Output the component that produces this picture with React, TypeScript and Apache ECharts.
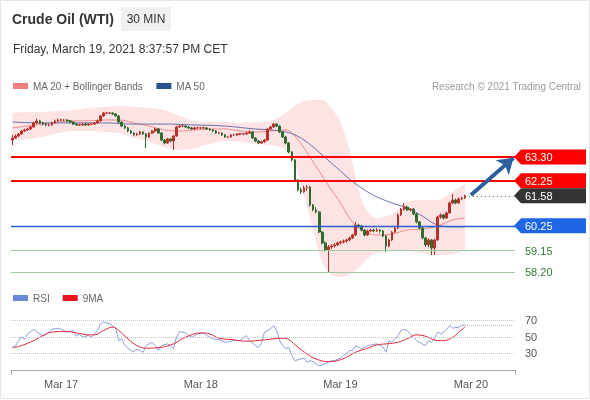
import React, { useEffect, useRef } from "react";
import * as echarts from "echarts";

// ---------- DATA ----------
const slotCount = 166; // 150 half-hour bars + empty room on the right
const dayLabels = ["Mar 17", "Mar 18", "Mar 19", "Mar 20"];
const dayLabelIndex = [16, 62, 108, 151];

// [open, close, low, high]
const candles: number[][] = [
  [64.05, 64.14, 63.83, 64.28], [64.14, 64.23, 64.10, 64.30], [64.23, 64.32, 64.18, 64.36], [64.32, 64.45, 64.28, 64.50],
  [64.45, 64.50, 64.40, 64.56], [64.50, 64.54, 64.45, 64.60], [64.54, 64.63, 64.50, 64.68], [64.63, 64.81, 64.60, 64.86],
  [64.81, 64.90, 64.76, 65.00], [64.90, 64.81, 64.76, 64.95], [64.81, 64.76, 64.70, 64.86], [64.76, 64.72, 64.66, 64.80],
  [64.72, 64.72, 64.66, 64.78], [64.72, 64.81, 64.68, 64.86], [64.81, 64.90, 64.78, 64.96], [64.90, 64.94, 64.86, 65.00],
  [64.94, 64.94, 64.89, 64.99], [64.94, 64.94, 64.88, 64.98], [64.94, 64.90, 64.85, 64.97], [64.90, 64.85, 64.80, 64.94],
  [64.85, 64.76, 64.72, 64.88], [64.76, 64.72, 64.67, 64.80], [64.72, 64.72, 64.67, 64.78], [64.72, 64.76, 64.68, 64.80],
  [64.76, 64.72, 64.68, 64.80], [64.72, 64.76, 64.68, 64.80], [64.76, 64.76, 64.71, 64.81], [64.76, 64.81, 64.72, 64.85],
  [64.81, 64.90, 64.78, 64.95], [64.90, 65.12, 64.86, 65.16], [65.12, 65.25, 65.08, 65.30], [65.25, 65.25, 65.19, 65.30],
  [65.25, 65.25, 65.20, 65.29], [65.25, 65.21, 65.16, 65.28], [65.21, 65.12, 65.08, 65.25], [65.12, 64.85, 64.80, 65.16],
  [64.85, 64.67, 64.62, 64.88], [64.67, 64.59, 64.54, 64.72], [64.59, 64.45, 64.40, 64.63], [64.45, 64.36, 64.32, 64.50],
  [64.36, 64.28, 64.22, 64.40], [64.28, 64.32, 64.24, 64.37], [64.32, 64.41, 64.28, 64.46], [64.41, 64.32, 64.28, 64.45],
  [64.32, 64.19, 63.70, 64.36], [64.19, 64.36, 64.15, 64.40], [64.36, 64.45, 64.32, 64.50], [64.45, 64.54, 64.40, 64.60],
  [64.54, 64.36, 64.32, 64.58], [64.36, 64.05, 64.00, 64.40], [64.05, 63.92, 63.86, 64.10], [63.92, 64.10, 63.88, 64.15],
  [64.10, 64.01, 63.95, 64.14], [64.01, 64.23, 63.61, 64.28], [64.23, 64.63, 64.20, 64.68], [64.63, 64.67, 64.58, 64.74],
  [64.67, 64.67, 64.62, 64.72], [64.67, 64.63, 64.58, 64.72], [64.63, 64.59, 64.54, 64.67], [64.59, 64.54, 64.50, 64.63],
  [64.54, 64.59, 64.50, 64.64], [64.59, 64.59, 64.54, 64.64], [64.59, 64.59, 64.53, 64.63], [64.59, 64.59, 64.54, 64.65],
  [64.59, 64.54, 64.50, 64.63], [64.54, 64.50, 64.45, 64.58], [64.50, 64.45, 64.40, 64.54], [64.45, 64.36, 64.32, 64.49],
  [64.36, 64.36, 64.31, 64.41], [64.36, 64.28, 64.23, 64.40], [64.28, 64.19, 64.14, 64.32], [64.19, 64.19, 64.14, 64.24],
  [64.19, 64.28, 64.15, 64.32], [64.28, 64.28, 64.23, 64.33], [64.28, 64.32, 64.24, 64.36], [64.32, 64.32, 64.27, 64.37],
  [64.32, 64.32, 64.26, 64.36], [64.32, 64.36, 64.28, 64.41], [64.36, 64.41, 64.32, 64.50], [64.41, 64.14, 64.10, 64.45],
  [64.14, 64.01, 63.96, 64.18], [64.01, 63.92, 63.88, 64.05], [63.92, 63.97, 63.88, 64.02], [63.97, 64.05, 63.93, 64.10],
  [64.05, 64.54, 64.02, 64.58], [64.54, 64.63, 64.50, 64.68], [64.63, 64.76, 64.59, 64.81], [64.76, 64.67, 64.62, 64.80],
  [64.67, 64.41, 64.36, 64.70], [64.41, 64.19, 64.14, 64.45], [64.19, 63.92, 63.86, 64.23], [63.92, 63.52, 63.46, 63.96],
  [63.52, 63.17, 63.10, 63.56], [63.17, 62.28, 62.22, 63.20], [62.28, 61.84, 61.78, 62.32], [61.84, 61.75, 61.66, 61.95],
  [61.75, 61.93, 61.70, 62.02], [61.93, 61.97, 61.80, 62.06], [61.97, 61.17, 61.10, 62.02], [61.17, 60.95, 60.90, 61.22],
  [60.95, 60.86, 60.80, 61.08], [60.86, 59.97, 59.92, 60.90], [59.97, 59.49, 59.42, 60.02], [59.49, 59.18, 59.10, 59.55],
  [59.18, 59.31, 58.20, 59.40], [59.31, 59.35, 59.22, 59.44], [59.35, 59.40, 59.28, 59.48], [59.40, 59.49, 59.35, 59.55],
  [59.49, 59.53, 59.42, 59.60], [59.53, 59.57, 59.46, 59.64], [59.57, 59.62, 59.50, 59.68], [59.62, 59.71, 59.56, 59.76],
  [59.71, 59.84, 59.66, 59.90], [59.84, 60.28, 59.80, 60.42], [60.28, 60.24, 60.15, 60.34], [60.24, 60.06, 60.00, 60.30],
  [60.06, 59.84, 59.78, 60.10], [59.84, 60.02, 59.80, 60.08], [60.02, 60.06, 59.96, 60.12], [60.06, 60.02, 59.96, 60.12],
  [60.02, 60.06, 59.98, 60.14], [60.06, 60.02, 59.94, 60.10], [60.02, 59.80, 59.74, 60.06], [59.80, 59.35, 59.09, 59.84],
  [59.35, 59.62, 59.30, 59.68], [59.62, 59.97, 59.58, 60.02], [59.97, 60.15, 59.92, 60.22], [60.15, 60.73, 60.10, 60.80],
  [60.73, 60.99, 60.68, 61.04], [60.99, 61.08, 60.92, 61.26], [61.08, 60.95, 60.90, 61.14], [60.95, 60.99, 60.88, 61.04],
  [60.99, 60.77, 60.72, 61.04], [60.77, 60.42, 60.36, 60.82], [60.42, 60.15, 60.08, 60.46], [60.15, 59.71, 59.65, 60.20],
  [59.71, 59.40, 59.32, 59.76], [59.40, 59.62, 59.30, 59.70], [59.62, 59.26, 58.95, 59.66], [59.26, 59.62, 58.95, 59.68],
  [59.62, 60.64, 59.58, 60.70], [60.64, 60.73, 60.55, 60.80], [60.73, 60.59, 60.52, 60.78], [60.59, 60.82, 60.55, 60.88],
  [60.82, 61.26, 60.78, 61.32], [61.26, 61.39, 61.20, 61.66], [61.39, 61.26, 61.20, 61.45], [61.26, 61.44, 61.22, 61.50],
  [61.44, 61.48, 61.40, 61.54], [61.48, 61.58, 61.44, 61.63],
];

// sampled indicator readings (bar index, value)
const bandIndex = [0, 5, 10, 15, 20, 25, 30, 35, 40, 45, 50, 55, 60, 65, 70, 75, 80, 85, 90, 93, 96, 99, 102, 105, 108, 111, 114, 117, 120, 125, 130, 135, 140, 145, 149];
const bandUpper = [65.25, 65.30, 65.30, 65.34, 65.38, 65.47, 65.52, 65.56, 65.52, 65.47, 65.38, 65.12, 64.90, 64.85, 64.85, 64.81, 64.85, 64.90, 65.25, 65.56, 65.78, 65.83, 65.83, 65.47, 64.85, 63.61, 61.84, 60.86, 60.59, 60.77, 61.30, 61.39, 61.39, 61.75, 62.10];
const bandLower = [64.05, 64.10, 64.19, 64.36, 64.45, 64.45, 64.41, 64.36, 64.14, 63.97, 63.74, 63.61, 63.70, 63.88, 64.01, 63.97, 63.88, 63.83, 63.61, 62.95, 61.61, 60.06, 58.64, 58.07, 57.98, 58.07, 58.38, 58.82, 59.04, 59.13, 59.13, 59.04, 58.95, 59.00, 59.18];
const ma20 = [64.59, 64.67, 64.76, 64.85, 64.90, 64.90, 64.94, 64.94, 64.81, 64.67, 64.50, 64.45, 64.50, 64.54, 64.54, 64.45, 64.41, 64.45, 64.50, 64.23, 63.70, 63.08, 62.46, 61.84, 61.26, 60.59, 60.15, 59.93, 59.84, 59.89, 60.06, 60.11, 60.24, 60.51, 60.59];
const ma50Index = [0, 10, 20, 30, 40, 50, 60, 70, 80, 85, 90, 93, 96, 99, 102, 105, 108, 111, 114, 117, 120, 125, 130, 135, 140, 145, 149];
const ma50 = [64.85, 64.81, 64.81, 64.81, 64.76, 64.76, 64.72, 64.67, 64.54, 64.50, 64.41, 64.28, 64.05, 63.74, 63.39, 63.03, 62.68, 62.32, 62.01, 61.75, 61.53, 61.26, 61.04, 60.68, 60.28, 60.20, 60.20];

const rsiIndex = [0, 1, 2, 3, 4, 5, 7, 8, 10, 11, 13, 15, 17, 18, 20, 21, 22, 23, 25, 26, 28, 29, 30, 32, 34, 35, 36, 37, 39, 40, 41, 42, 43, 44, 46, 47, 48, 49, 51, 52, 53, 54, 55, 57, 58, 59, 61, 63, 64, 66, 68, 70, 73, 75, 77, 78, 80, 81, 82, 83, 85, 86, 87, 88, 89, 90, 91, 92, 93, 95, 96, 97, 98, 99, 100, 101, 102, 104, 105, 106, 108, 109, 110, 111, 112, 113, 114, 115, 117, 118, 120, 122, 123, 124, 125, 127, 128, 129, 130, 131, 132, 133, 134, 135, 136, 137, 138, 139, 140, 141, 142, 143, 144, 145, 147, 148, 149];
const rsiValue = [38, 39, 45.5, 50, 47, 54, 59, 56, 51.6, 52.4, 59, 60.5, 57.7, 55.7, 57.7, 50.8, 53.6, 49.6, 51.6, 49.6, 57.7, 65.7, 67.8, 65.7, 59.7, 45.5, 47.6, 39.5, 33.4, 32.2, 35.5, 33.4, 31.4, 39.5, 43.5, 39.5, 33.4, 39.5, 41.5, 39.5, 35.5, 49.6, 56.4, 54.8, 51.6, 49.6, 53.6, 54.8, 51.6, 47.6, 46.7, 43.5, 45.5, 45.5, 51.6, 46, 39.5, 37, 42, 55.7, 59.7, 63.7, 57.7, 45.5, 39.5, 35.5, 37.5, 27.3, 21.3, 23.3, 24.2, 19.3, 21.3, 20, 17.3, 15.2, 16, 19.3, 21.3, 21.3, 24.2, 27.3, 29.4, 33.4, 33.4, 39.5, 37.5, 35.5, 39.5, 40.3, 41.5, 38, 31.4, 45.5, 43.5, 51.6, 57.7, 59, 57.7, 53.6, 49.6, 45.5, 43.5, 41.5, 39.5, 45.5, 43.5, 47.6, 55.7, 53.6, 55.7, 59, 63.7, 60.5, 61.8, 63.7, 64.5];
const rsiMaIndex = [0, 3, 7, 10, 13, 18, 21, 25, 27, 30, 33, 35, 38, 41, 44, 49, 53, 57, 62, 65, 68, 73, 77, 83, 89, 91, 94, 97, 100, 104, 107, 110, 113, 117, 120, 123, 127, 130, 133, 136, 140, 142, 145, 148, 149];
const rsiMa = [36.7, 39.5, 45.5, 51.6, 55.7, 56.4, 54.8, 52.4, 52.4, 57.7, 61.8, 57.7, 47.6, 39.5, 36.3, 37.5, 41.5, 49.6, 54.8, 53.6, 48.4, 46.4, 44.7, 46.4, 48.4, 46.7, 37.5, 29.4, 23.3, 20, 21.3, 25.4, 31.4, 36.3, 40.3, 41.5, 43.5, 47.6, 52.4, 50.8, 45.5, 45.5, 49.6, 59, 61.8];
const rsiLevels = [70, 50, 30];

// levels (resistance / support) and last price
const resistance = [63.30, 62.25];
const support = [60.25];
const minorSupport = [59.15, 58.20];
const lastPrice = 61.58;
const arrowFrom = [151, 61.61];
const arrowTo = [165, 63.26];

const FONT = "'Liberation Sans', Arial, Helvetica, sans-serif";

export default function App() {
  const ref = useRef<HTMLDivElement>(null);
  useEffect(() => {
    if (!ref.current) return;
    const chart = echarts.init(ref.current, undefined, { renderer: "svg" });
    const cats = Array.from({ length: slotCount }, (_, i) => String(i));
    const pairs = (idx: number[], vals: number[]) => idx.map((x, k) => [x, vals[k]]);
    const lastIdx = candles.length - 1;

    const option: any = {
      animation: false,
      textStyle: { fontFamily: FONT },
      legend: [
        {
          left: 8, top: 76, icon: "rect", itemWidth: 15, itemHeight: 6, itemGap: 13,
          textStyle: { color: "#666", fontSize: 10, fontFamily: FONT },
          data: [
            { name: "MA 20 + Bollinger Bands", itemStyle: { color: "#f08080" } },
            { name: "MA 50", itemStyle: { color: "#2c4f8f" } },
          ],
        },
        {
          left: 8, top: 288, icon: "rect", itemWidth: 15, itemHeight: 6, itemGap: 13,
          textStyle: { color: "#666", fontSize: 10, fontFamily: FONT },
          data: [
            { name: "RSI", itemStyle: { color: "#6a89d8" } },
            { name: "9MA", itemStyle: { color: "#e8141e" } },
          ],
        },
      ],
      grid: [
        { left: 11, right: 75, top: 100.6, height: 180.4 },
        { left: 11, right: 75, top: 312, height: 58 },
      ],
      xAxis: [
        { type: "category", gridIndex: 0, data: cats, boundaryGap: true, show: false },
        {
          type: "category", gridIndex: 1, data: cats, boundaryGap: true, position: "bottom",
          axisLine: { show: false }, axisTick: { show: false }, splitLine: { show: false },
          axisLabel: {
            interval: (i: number) => dayLabelIndex.includes(i),
            formatter: (v: string) => {
              const k = dayLabelIndex.indexOf(Number(v));
              return k >= 0 ? dayLabels[k] : "";
            },
            color: "#555", fontSize: 11, margin: 8, fontFamily: FONT,
          },
        },
        {
          type: "value", gridIndex: 1, min: 0, max: 1, interval: 1, position: "bottom",
          axisLine: { show: true, lineStyle: { color: "#aaa" } },
          axisTick: { show: true, length: 5, lineStyle: { color: "#aaa" } },
          axisLabel: { show: false }, splitLine: { show: false },
        },
      ],
      yAxis: [
        { type: "value", gridIndex: 0, min: 57.8, max: 65.8, show: false, splitLine: { show: false } },
        { type: "value", gridIndex: 1, min: 10, max: 80, show: false, splitLine: { show: false } },
      ],
      series: [
        {
          name: "bbLower", type: "line", xAxisIndex: 0, yAxisIndex: 0, stack: "bb", smooth: 0.3,
          data: pairs(bandIndex, bandLower), symbol: "none", lineStyle: { opacity: 0 }, silent: true, z: 1,
        },
        {
          name: "bbWidth", type: "line", xAxisIndex: 0, yAxisIndex: 0, stack: "bb", smooth: 0.3,
          data: bandIndex.map((x, k) => [x, +(bandUpper[k] - bandLower[k]).toFixed(2)]),
          symbol: "none", lineStyle: { opacity: 0 }, areaStyle: { color: "#fde3e3", opacity: 1 }, silent: true, z: 1,
        },
        {
          name: "MA 20 + Bollinger Bands", type: "line", xAxisIndex: 0, yAxisIndex: 0, smooth: 0.4,
          data: pairs(bandIndex, ma20), symbol: "none", color: "#f08080",
          lineStyle: { width: 1, color: "#ec8a8a" }, z: 2,
        },
        {
          name: "MA 50", type: "line", xAxisIndex: 0, yAxisIndex: 0, smooth: 0.4,
          data: pairs(ma50Index, ma50), symbol: "none", color: "#2c4f8f",
          lineStyle: { width: 1, color: "#6670aa" }, z: 2,
        },
        {
          name: "WTI", type: "candlestick", xAxisIndex: 0, yAxisIndex: 0, data: candles,
          barWidth: "72%",
          itemStyle: { color: "#b8322a", color0: "#2f6b2f", borderColor: "#b8322a", borderColor0: "#2f6b2f", borderWidth: 1 },
          z: 3,
          markLine: {
            silent: true, symbol: ["none", "none"], animation: false,
            label: { show: false },
            data: [
              ...resistance.map((v) => ({ yAxis: v, lineStyle: { color: "#ff0000", width: 2, type: "solid" } })),
              ...support.map((v) => ({ yAxis: v, lineStyle: { color: "#2a5fd8", width: 1.3, type: "solid" } })),
              ...minorSupport.map((v) => ({ yAxis: v, lineStyle: { color: "#9ccc9c", width: 1, type: "solid" } })),
              [
                { coord: [lastIdx, lastPrice], lineStyle: { color: "#555", width: 1, type: [1, 3] } },
                { coord: [slotCount - 1, lastPrice] },
              ],
              [
                { coord: arrowFrom, symbol: "none", lineStyle: { color: "#2d5e9e", width: 4, type: "solid" } },
                { coord: arrowTo, symbol: "arrow", symbolSize: [15, 15] },
              ],
            ],
          },
        },
        {
          name: "RSI", type: "line", xAxisIndex: 1, yAxisIndex: 1, data: pairs(rsiIndex, rsiValue),
          symbol: "none", color: "#6a89d8", lineStyle: { width: 1, color: "#8aa0dc" }, z: 3,
          markLine: {
            silent: true, symbol: ["none", "none"],
            lineStyle: { type: "dotted", color: "#c4c4c4", width: 1 },
            label: { show: true, position: "end", distance: 10, color: "#555", fontSize: 11, formatter: "{c}", fontFamily: FONT },
            data: [
              ...rsiLevels.map((v) => ({ yAxis: v })),
              [
                { coord: [lastIdx, rsiValue[rsiValue.length - 1]], label: { show: false } },
                { coord: [slotCount - 1, rsiValue[rsiValue.length - 1]] },
              ],
            ],
          },
        },
        {
          name: "9MA", type: "line", xAxisIndex: 1, yAxisIndex: 1, data: pairs(rsiMaIndex, rsiMa), smooth: 0.4,
          symbol: "none", color: "#e8141e", lineStyle: { width: 1, color: "#e0283a" }, z: 4,
        },
      ],
    };
    chart.setOption(option);

    const toY = (v: number) => chart.convertToPixel({ yAxisIndex: 0 }, v) as number;
    const tipX = 514, bodyX = 521, endX = 586, half = 7.5;
    const tag = (v: number, fill: string) => {
      const y = toY(v);
      return [
        { type: "polygon", shape: { points: [[tipX, y], [bodyX, y - half], [endX, y - half], [endX, y + half], [bodyX, y + half]] }, style: { fill } },
        { type: "text", x: 525, y, style: { text: v.toFixed(2), fill: "#fff", font: `11px ${FONT}`, verticalAlign: "middle" } },
      ];
    };
    const plain = (v: number) => ({
      type: "text", x: 525, y: toY(v),
      style: { text: v.toFixed(2), fill: "#2e7d32", font: `11px ${FONT}`, verticalAlign: "middle" },
    });
    chart.setOption({
      graphic: [
        { type: "rect", shape: { x: 0.5, y: 0.5, width: 589, height: 398 }, style: { fill: "none", stroke: "#e6e6e6" }, silent: true },
        { type: "text", x: 12, y: 19, style: { text: "Crude Oil (WTI)", fill: "#333", font: `bold 14px ${FONT}`, verticalAlign: "middle" } },
        { type: "rect", shape: { x: 121, y: 7, width: 50, height: 24 }, style: { fill: "#f0f0f0" } },
        { type: "text", x: 146, y: 19, style: { text: "30 MIN", fill: "#333", font: `12px ${FONT}`, align: "center", verticalAlign: "middle" } },
        { type: "text", x: 13, y: 49, style: { text: "Friday, March 19, 2021 8:37:57 PM CET", fill: "#333", font: `12px ${FONT}`, verticalAlign: "middle" } },
        { type: "text", x: 581, y: 86, style: { text: "Research © 2021 Trading Central", fill: "#999", font: `10px ${FONT}`, align: "right", verticalAlign: "middle" } },
        ...resistance.flatMap((v) => tag(v, "#ff0000")),
        ...tag(lastPrice, "#333333"),
        ...support.flatMap((v) => tag(v, "#1f66e5")),
        ...minorSupport.map(plain),
      ],
    });
    return () => chart.dispose();
  }, []);
  return <div ref={ref} style={{ position: "fixed", left: 0, top: 0, width: 590, height: 400 }} />;
}
